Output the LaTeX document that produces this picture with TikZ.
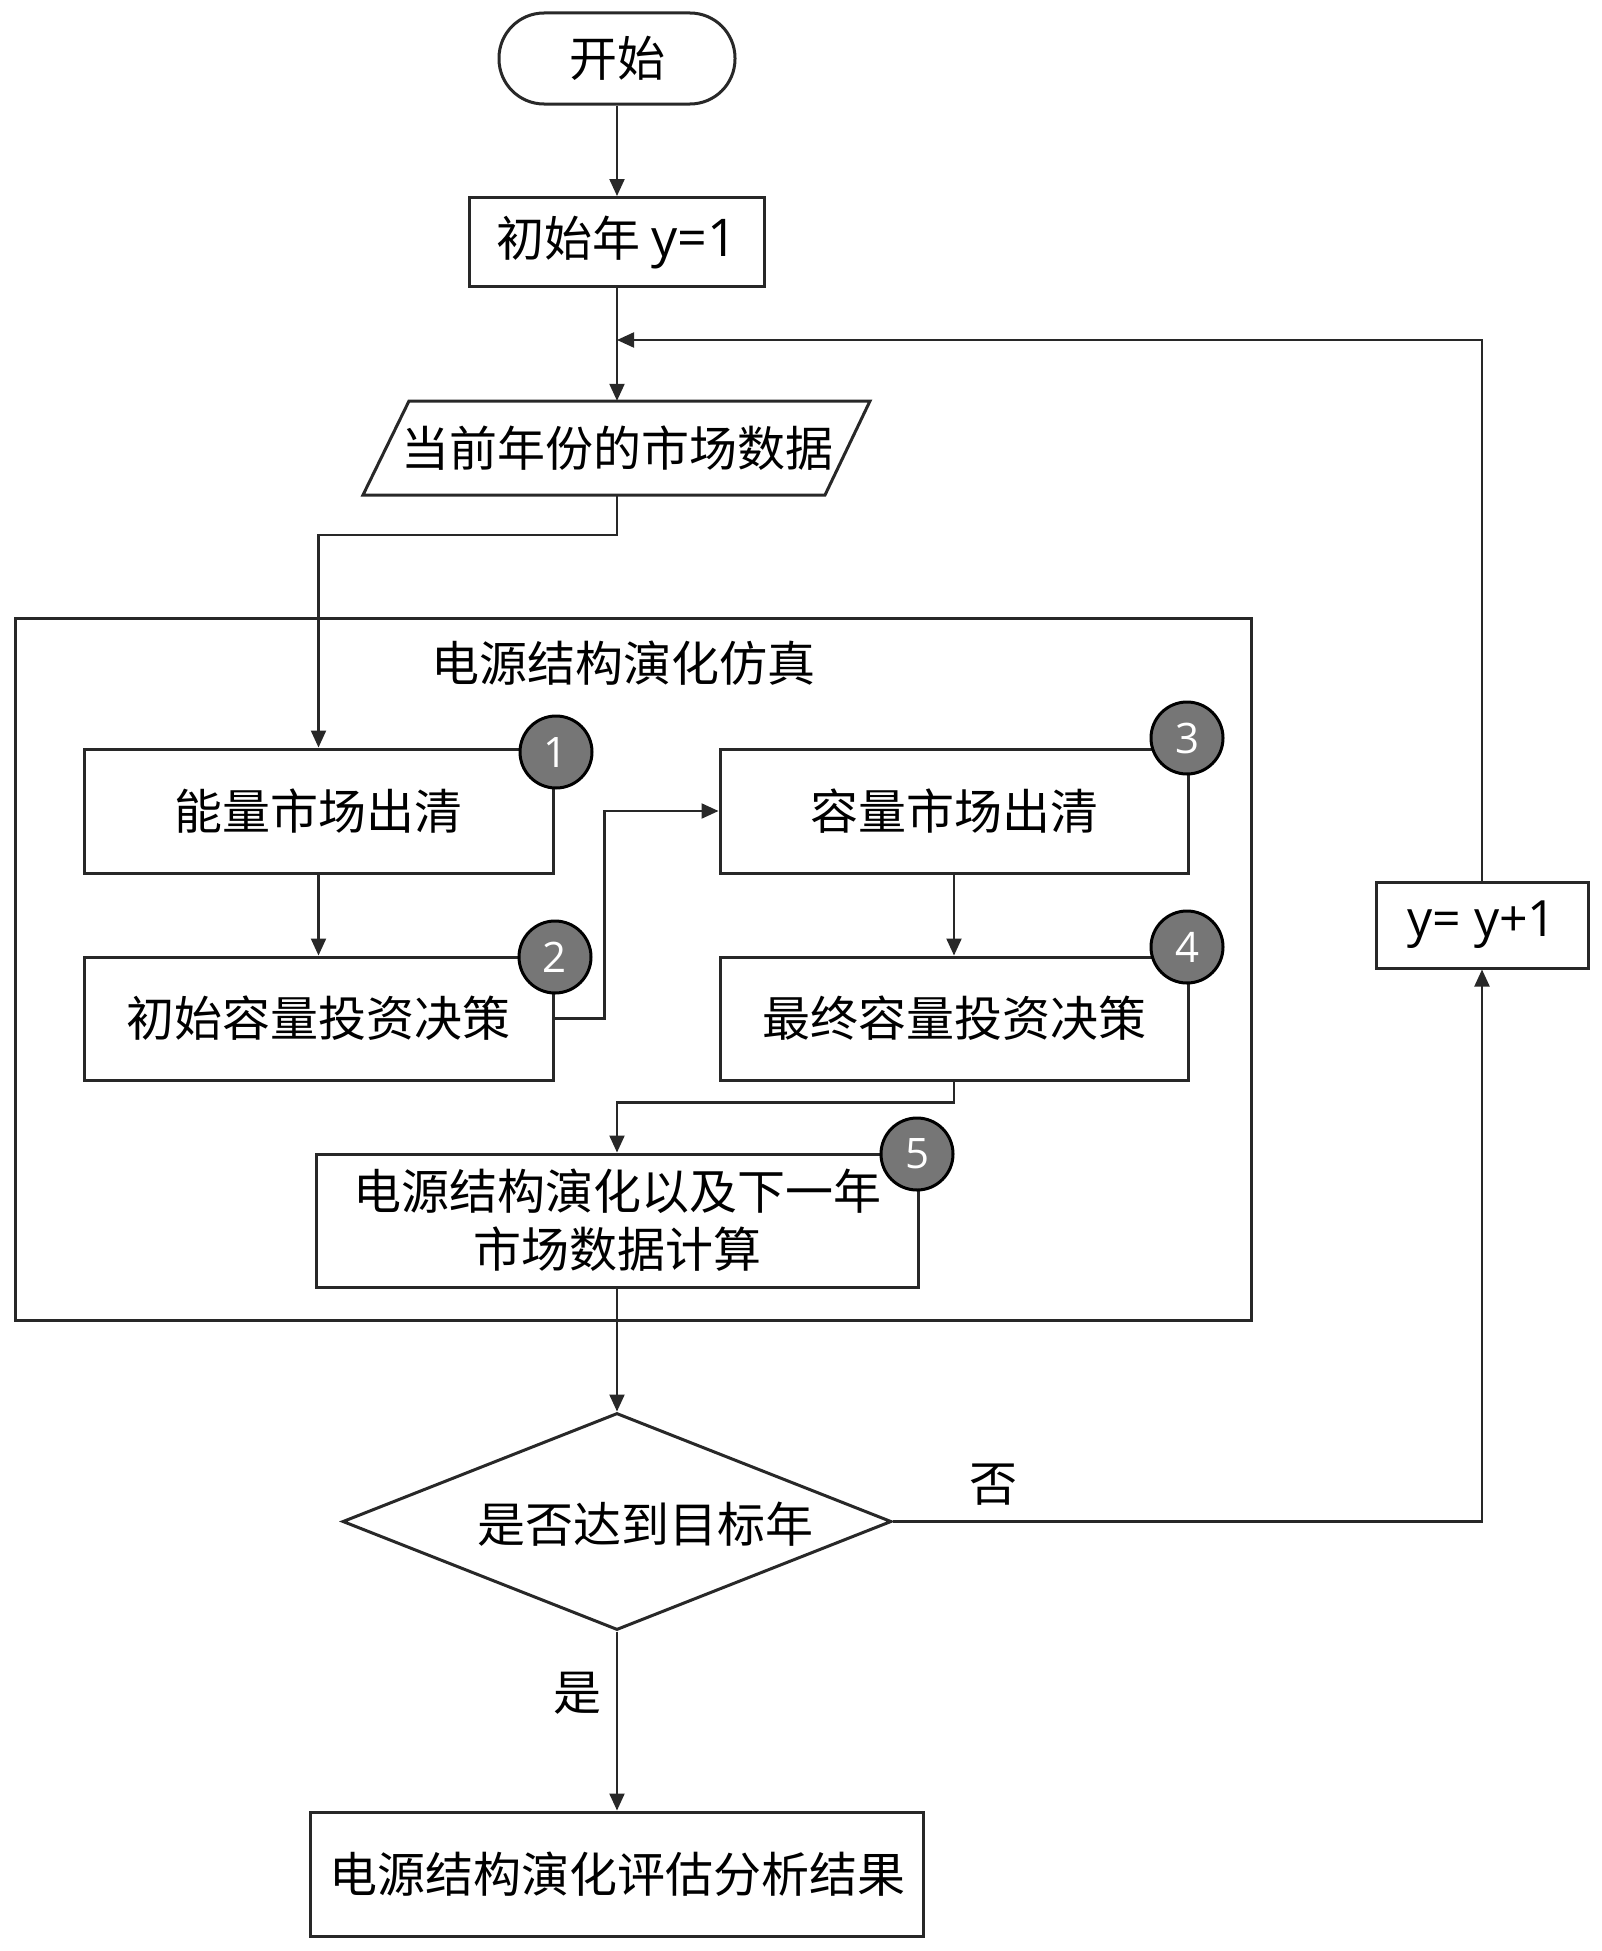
\documentclass[tikz,border=0pt]{standalone}
\usepackage{fontspec}
\setmainfont{Noto Sans CJK SC}
\newfontfamily\lat{Open Sans}
\usetikzlibrary{shapes.geometric,arrows.meta}
\definecolor{lc}{RGB}{40,40,40}
\definecolor{badgegray}{RGB}{118,118,118}
\newcommand\myfs{\fontsize{48}{58}\selectfont}
\begin{document}
\begin{tikzpicture}[x=1pt,y=-1pt,
  box/.style={draw=lc, line width=3pt, rectangle, inner sep=0pt, font=\myfs, align=center},
  conn/.style={draw=lc, line width=2.2pt, -{Triangle[length=17pt,width=15pt]}},
  badge/.style={circle, draw=black, line width=3pt, fill=badgegray, minimum size=72pt, inner sep=0pt, text=white, font=\lat\fontsize{42}{42}\selectfont},
  lbl/.style={font=\myfs, inner sep=0pt}]
\useasboundingbox (0,0) rectangle (1602,1951);
\fill[white] (0,0) rectangle (1602,1951);

% start
\node[box, rounded corners=45pt, minimum width=236pt, minimum height=91pt] (start) at (617,58.5) {开始};
% init
\node[box, minimum width=295pt, minimum height=89pt] (init) at (617,242) {初始年 {\lat\fontsize{52}{58}\selectfont y=1}};
% parallelogram
\draw[draw=lc, line width=3pt] (409,401) -- (870,401) -- (825,495) -- (363,495) -- cycle;
\node[lbl, minimum width=440pt, minimum height=94pt] (para) at (617,448) {当前年份的市场数据};

% container
\node[draw=lc, line width=3pt, rectangle, minimum width=1236pt, minimum height=702pt, inner sep=0pt] (cont) at (633,969) {};
\node[lbl] (title) at (623,663) {电源结构演化仿真};

% inner boxes
\node[box, minimum width=469pt, minimum height=124pt] (b1) at (318.5,811) {能量市场出清};
\node[box, minimum width=469pt, minimum height=123pt] (b2) at (318.5,1018.5) {初始容量投资决策};
\node[box, minimum width=468pt, minimum height=124pt] (b3) at (954,811) {容量市场出清};
\node[box, minimum width=468pt, minimum height=123pt] (b4) at (954,1018.5) {最终容量投资决策};
\node[box, minimum width=602pt, minimum height=133pt] (b5) at (617,1220.5) {电源结构演化以及下一年\\市场数据计算};

% badges
\node[badge] (n1) at (556,752) {1};
\node[badge] (n2) at (555,957) {2};
\node[badge] (n3) at (1187,738) {3};
\node[badge] (n4) at (1187,947) {4};
\node[badge] (n5) at (917,1154) {5};

% diamond
\node[diamond, draw=lc, line width=3pt, minimum width=549pt, minimum height=217pt, inner sep=0pt] (dia) at (617,1521.5) {};
\node[lbl] (diat) at (645,1524) {是否达到目标年};

% increment box
\node[box, minimum width=212pt, minimum height=86pt, font=\lat\fontsize{50}{50}\selectfont] (inc) at (1482,925) {y=\ y+1};

% final
\node[box, minimum width=613pt, minimum height=124pt] (fin) at (617,1874) {电源结构演化评估分析结果};

% labels
\node[lbl] (yes) at (577,1693) {是};
\node[lbl] (no) at (993,1485) {否};

\coordinate (loopc) at (617,340);

% connectors
\draw[conn] (start.south) -- (init.north);
\draw[conn] (init.south) -- (para.north);
\draw[conn] (para.south) -- ++(0,40) -| (b1.north);
\draw[conn] (b1.south) -- (b2.north);
\draw[conn] (b2.east) -- ++(50,0) |- (b3.west);
\draw[conn] (b3.south) -- (b4.north);
\draw[conn] (b4.south) -- ++(0,21) -| (b5.north);
\draw[conn] (b5.south) -- (dia.north);
\draw[conn] (dia.south) -- (fin.north);
\draw[conn] (dia.east) -| (inc.south);
\draw[conn] (inc.north) |- (loopc);
\end{tikzpicture}
\end{document}
